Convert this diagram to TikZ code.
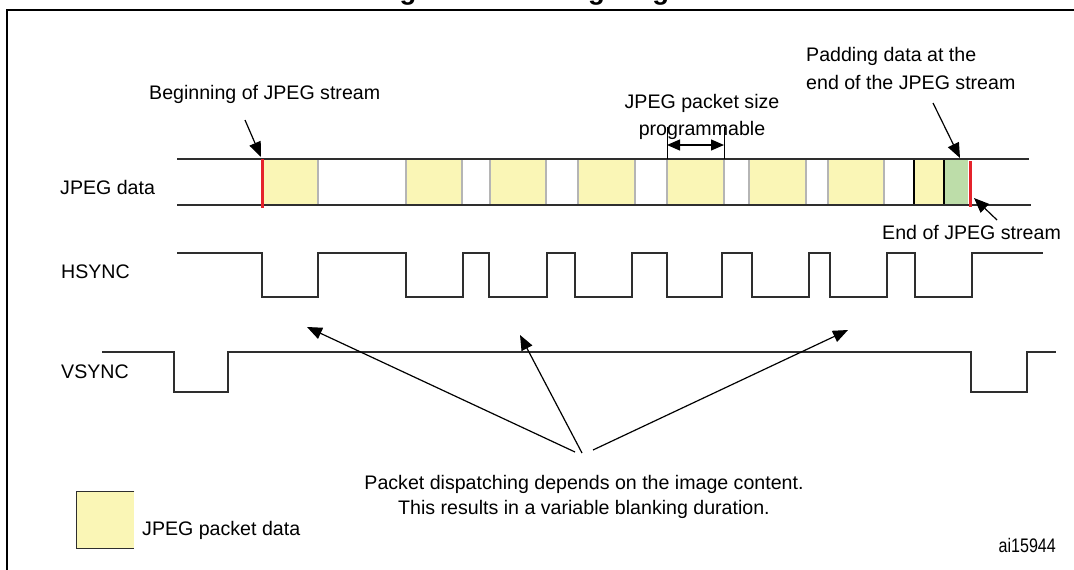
\documentclass[tikz,border=0pt]{standalone}
\usepackage{fontspec}
\setmainfont{Liberation Sans}
\usetikzlibrary{arrows.meta}
\definecolor{pkt}{HTML}{FAF6B6}
\definecolor{pad}{HTML}{BDDDA9}
\definecolor{sepc}{HTML}{B5B5B5}
\definecolor{redc}{HTML}{E5232B}
\definecolor{busc}{HTML}{2E2E2E}
\tikzset{
  lbl/.style={font=\fontsize{19.6}{23}\selectfont, inner sep=0pt, anchor=base west},
  ctr/.style={font=\fontsize{19.6}{23}\selectfont, inner sep=0pt, anchor=base},
  wave/.style={line width=2.6pt, draw=busc, line join=miter},
  busline/.style={line width=2.6pt, draw=busc},
  ptr/.style={line width=1.2pt, -{Triangle[length=15pt,width=12pt]}},
  dbl/.style={line width=1.2pt, {Triangle[length=13pt,width=11pt]}-{Triangle[length=13pt,width=11pt]}},
  packet/.style={fill=pkt, draw=none},
  sepline/.style={line width=1.6pt, draw=sepc},
  redline/.style={line width=3pt, draw=redc},
}
\begin{document}
\begin{tikzpicture}[x=1pt,y=-1pt]
\useasboundingbox (0,0) rectangle (1074,570);
\clip (0,0) rectangle (1074,570);
% title (cut off at top)
\node[font=\fontsize{27.5}{30}\selectfont\bfseries, inner sep=0pt, anchor=base west] (title) at (375,-0.5) {Figure 20. Timing diagram};
% frame
\draw[line width=2.5pt] (7,572) -- (7,10) -- (1076,10);
% packets
\foreach \a/\b in {262/318,406/462,490/546,578/635,667/724,749/806,828/884,914/944}
  \fill[packet] (\a,160) rectangle (\b,204);
\fill[pad] (944,160) rectangle (968,204);
\foreach \x in {318,406,462,490,546,578,635,667,724,749,806,828,884}
  \draw[sepline] (\x,160) -- (\x,204);
\draw[line width=1.6pt] (914,160) -- (914,204);
\draw[line width=1.6pt] (944,160) -- (944,204);
% bus lines
\draw[busline] (177,159) -- (1029,159);
\draw[busline] (177,205) -- (1031,205);
\draw[redline] (262,159) -- (262,208);
\draw[redline] (970,161) -- (970,207);
\coordinate (begTip) at (261,157);
\coordinate (padTip) at (960,158);
\coordinate (endTip) at (974,198);
% labels
\node[lbl] (jd) at (60,194.3) {JPEG data};
\node[lbl] (hs) at (61,278) {HSYNC};
\node[lbl] (vs) at (61,378) {VSYNC};
\node[lbl] (beg) at (149,99.5) {Beginning of JPEG stream};
\coordinate (begTail) at (245,120);
\draw[ptr] (begTail) -- (begTip);
\node[lbl] (pad1) at (806,61.3) {Padding data at the};
\node[lbl] (pad2) at (806,89) {end of the JPEG stream};
\coordinate (padTail) at (933,103);
\draw[ptr] (padTail) -- (padTip);
\node[lbl] (endl) at (882,239.3) {End of JPEG stream};
\coordinate (endTail) at (997,220);
\draw[ptr] (endTail) -- (endTip);
\node[ctr] (ps1) at (702,108.5) {JPEG packet size};
\node[ctr] (ps2) at (702,135) {programmable};
\draw[line width=1pt] (667,127) -- (667,159);
\draw[line width=1pt] (724,127) -- (724,159);
\coordinate (psL) at (667,145);
\coordinate (psR) at (724,145);
\draw[dbl] (psL) -- (psR);
% HSYNC
\draw[wave] (177,253) -| (262,297) -| (318,253) -| (406,297) -| (463,253) -| (489,297) -| (547,253) -| (575,297) -| (632,253) -| (667,297) -| (722,253) -| (752,297) -| (809,253) -| (830,297) -| (887,253) -| (915,297) -| (972,253) -- (1043,253);
% VSYNC
\draw[wave] (102,352) -| (174,392) -| (228,352) -| (971,392) -| (1027,352) -- (1056,352);
% dispatch note
\node[ctr] (note1) at (584,489.7) {Packet dispatching depends on the image content.};
\node[ctr] (note2) at (584,514) {This results in a variable blanking duration.};
\coordinate (t1) at (575,452);
\coordinate (t2) at (582,453);
\coordinate (t3) at (593,450);
\coordinate (h1) at (307,327);
\coordinate (h2) at (520,335);
\coordinate (h3) at (848,330);
\draw[ptr] (t1) -- (h1);
\draw[ptr] (t2) -- (h2);
\draw[ptr] (t3) -- (h3);
% legend
\node[fill=pkt, minimum width=58pt, minimum height=57pt, inner sep=0pt, anchor=north west] (legbox) at (76,491.5) {};
\draw[line width=1pt, draw=busc] (legbox.north east) -- (legbox.north west) -- (legbox.south west) -- (legbox.south east);
\node[lbl] (legtxt) at (142,535) {JPEG packet data};
\node[font=\fontsize{19.6}{23}\selectfont, inner sep=0pt, anchor=base east, xscale=0.82] (ai) at (1056,552) {ai15944};
\end{tikzpicture}
\end{document}
